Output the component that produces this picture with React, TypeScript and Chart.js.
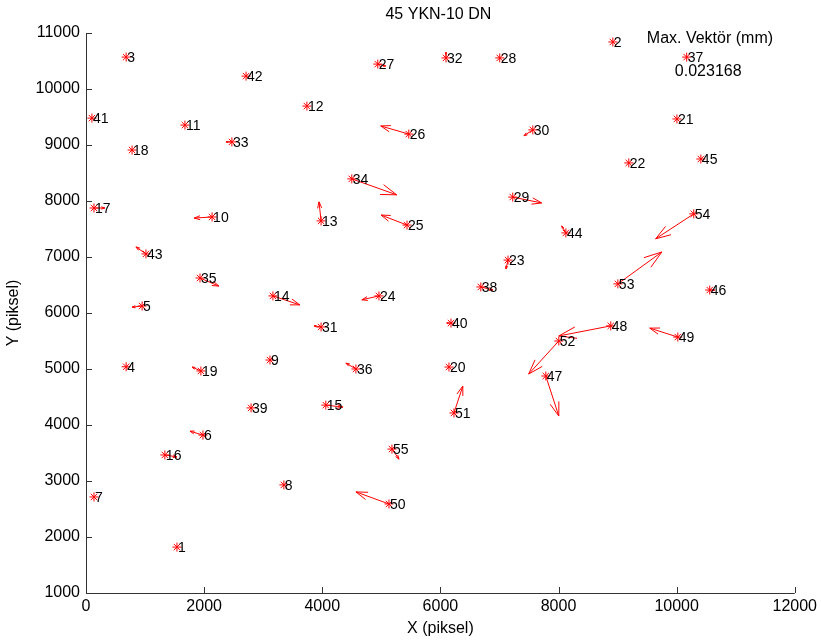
import React, { useEffect, useRef } from "react";
import { Chart, registerables } from "chart.js";

Chart.register(...registerables);

const FONT = '"Liberation Sans", Arial, Helvetica, sans-serif';

const pointIds = [
  1, 2, 3, 4, 5, 6, 7, 8, 9, 10, 11, 12, 13, 14, 15, 16, 17, 18, 19, 20,
  21, 22, 23, 24, 25, 26, 27, 28, 29, 30, 31, 32, 33, 34, 35, 36, 37, 38, 39, 40,
  41, 42, 43, 44, 45, 46, 47, 48, 49, 50, 51, 52, 53, 54, 55,
];
const pointX = [
  1540, 8920, 680, 680, 950, 1980, 135, 3350, 3115, 2135, 1675, 3740, 3980, 3165, 4060, 1335, 135, 780, 1945, 6145,
  10005, 9190, 7145, 4960, 5435, 5465, 4940, 7005, 7225, 7565, 3980, 6095, 2470, 4500, 1930, 4570, 10170, 6685, 2795, 6180,
  100, 2710, 1015, 8125, 10410, 10560, 7785, 8885, 10020, 5130, 6230, 8005, 9005, 10290, 5180,
];
const pointY = [
  1820, 10840, 10570, 5040, 6125, 3820, 2715, 2930, 5160, 7715, 9355, 9695, 7645, 6305, 4355, 3465, 7875, 8910, 4965, 5035,
  9465, 8680, 6945, 6305, 7570, 9195, 10445, 10555, 8070, 9270, 5750, 10555, 9055, 8395, 6625, 5000, 10570, 6465, 4305, 5820,
  9480, 10230, 7055, 7430, 8750, 6410, 4875, 5770, 5570, 2590, 4215, 5500, 6520, 7770, 3570,
];
// scaled displacement vectors (in plot units)
const vecU = [
  0, 0, 0, 0, -170, -220, 0, 0, 35, -305, 0, 0, -35, 455, 290, 205, 185, 0, -150, 0,
  0, 0, -35, -290, -440, -475, 135, 0, 490, -150, -120, 0, -100, 760, 320, -170, 0, 205, 0, -70,
  0, 0, -170, -70, 0, 85, 220, -880, -475, -560, 150, -510, 745, -645, 120,
];
const vecV = [
  0, 0, 0, 0, -20, 70, 0, 0, 35, -20, 0, 0, 340, -160, -35, -35, 0, 0, 70, 0,
  0, 0, -160, -70, 180, 145, -35, 0, -105, -105, 20, 105, 0, -285, -145, 105, 0, -55, 0, 0,
  0, 0, 125, 125, 0, 0, -715, -180, 160, 215, 480, -590, 570, -445, -180,
];

const xMin = 0;
const xMax = 12000;
const xStep = 2000;
const yMin = 1000;
const yMax = 11000;
const yStep = 1000;

const titleText = "45 YKN-10 DN";
const xLabel = "X (piksel)";
const yLabel = "Y (piksel)";
const maxVecLabel = "Max. Vektör (mm)";
const maxVecValue = "0.023168";

const overlayPlugin = {
  id: "overlay",
  afterDatasetsDraw(chart: any) {
    const ctx = chart.ctx;
    const xs = chart.scales.x;
    const ys = chart.scales.y;
    const area = chart.chartArea;
    ctx.save();

    // arrows (quiver style)
    ctx.strokeStyle = "#ff0000";
    ctx.lineWidth = 1;
    for (let i = 0; i < pointIds.length; i++) {
      const u = vecU[i];
      const v = vecV[i];
      if (u === 0 && v === 0) continue;
      const bx = xs.getPixelForValue(pointX[i]);
      const by = ys.getPixelForValue(pointY[i]);
      const tx = xs.getPixelForValue(pointX[i] + u);
      const ty = ys.getPixelForValue(pointY[i] + v);
      const du = tx - bx;
      const dv = ty - by;
      const a = 0.33;
      const b = 0.33;
      const h1x = tx - a * (du + b * dv);
      const h1y = ty - a * (dv - b * du);
      const h2x = tx - a * (du - b * dv);
      const h2y = ty - a * (dv + b * du);
      ctx.beginPath();
      ctx.moveTo(bx, by);
      ctx.lineTo(tx, ty);
      ctx.moveTo(h1x, h1y);
      ctx.lineTo(tx, ty);
      ctx.lineTo(h2x, h2y);
      ctx.stroke();
    }

    // point labels
    ctx.fillStyle = "#000000";
    ctx.font = `14px ${FONT}`;
    ctx.textAlign = "left";
    ctx.textBaseline = "middle";
    for (let i = 0; i < pointIds.length; i++) {
      const px = xs.getPixelForValue(pointX[i]);
      const py = ys.getPixelForValue(pointY[i]);
      ctx.fillText(String(pointIds[i]), px + 1, py + 1);
    }

    // annotation text (data coordinates)
    ctx.font = `16px ${FONT}`;
    ctx.fillText(maxVecLabel, xs.getPixelForValue(9495), ys.getPixelForValue(10893));
    ctx.fillText(maxVecValue, xs.getPixelForValue(9970), ys.getPixelForValue(10304));

    // axes lines with inward ticks
    ctx.strokeStyle = "#333333";
    ctx.lineWidth = 1;
    ctx.beginPath();
    ctx.moveTo(Math.round(area.left) + 0.5, area.top);
    ctx.lineTo(Math.round(area.left) + 0.5, Math.round(area.bottom) + 0.5);
    ctx.lineTo(area.right, Math.round(area.bottom) + 0.5);
    for (let v = yMin; v <= yMax; v += yStep) {
      const y = Math.round(ys.getPixelForValue(v)) + 0.5;
      ctx.moveTo(area.left, y);
      ctx.lineTo(area.left + 6, y);
    }
    for (let v = xMin; v <= xMax; v += xStep) {
      const x = Math.round(xs.getPixelForValue(v)) + 0.5;
      ctx.moveTo(x, area.bottom);
      ctx.lineTo(x, area.bottom - 6);
    }
    ctx.stroke();

    // titles
    ctx.fillStyle = "#000000";
    ctx.font = `16px ${FONT}`;
    ctx.textAlign = "center";
    ctx.textBaseline = "middle";
    const cx = (area.left + area.right) / 2;
    ctx.fillText(titleText, cx - 2, 15);
    ctx.fillText(xLabel, cx, 629);
    ctx.translate(14, (area.top + area.bottom) / 2);
    ctx.rotate(-Math.PI / 2);
    ctx.fillText(yLabel, 0, 0);
    ctx.restore();
  },
};

export default function App() {
  const canvasRef = useRef<HTMLCanvasElement | null>(null);

  useEffect(() => {
    document.body.style.margin = "0";
    const canvas = canvasRef.current;
    if (!canvas) return;
    const data = pointX.map((x, i) => ({ x, y: pointY[i] }));
    const chart = new Chart(canvas, {
      type: "scatter",
      data: {
        datasets: [
          {
            data,
            pointStyle: "star",
            pointRadius: 4.5,
            pointBorderColor: "#ff0000",
            pointBackgroundColor: "rgba(0,0,0,0)",
            pointBorderWidth: 1,
            showLine: false,
          } as any,
        ],
      },
      options: {
        animation: false,
        responsive: false,
        devicePixelRatio: 1,
        layout: { padding: { top: 33, right: 26, left: 0, bottom: 0 } },
        plugins: {
          legend: { display: false },
          tooltip: { enabled: false },
          title: { display: false },
        },
        scales: {
          x: {
            type: "linear",
            min: xMin,
            max: xMax,
            grid: { display: false, drawTicks: false },
            border: { display: false },
            ticks: {
              stepSize: xStep,
              color: "#000000",
              font: { family: FONT, size: 16 },
              padding: 4,
              maxRotation: 0,
              autoSkip: false,
              callback: (v: any) => String(v),
            },
            afterFit: (scale: any) => {
              scale.height = 51;
            },
          },
          y: {
            type: "linear",
            min: yMin,
            max: yMax,
            grid: { display: false, drawTicks: false },
            border: { display: false },
            ticks: {
              stepSize: yStep,
              color: "#000000",
              font: { family: FONT, size: 16 },
              padding: 6,
              autoSkip: false,
              callback: (v: any) => String(v),
            },
            afterFit: (scale: any) => {
              scale.width = 86;
            },
          },
        },
      },
      plugins: [overlayPlugin],
    });
    return () => chart.destroy();
  }, []);

  return (
    <div style={{ position: "absolute", left: 0, top: 0, width: 821, height: 644, background: "#ffffff" }}>
      <canvas ref={canvasRef} width={821} height={644} style={{ width: 821, height: 644 }} />
    </div>
  );
}
